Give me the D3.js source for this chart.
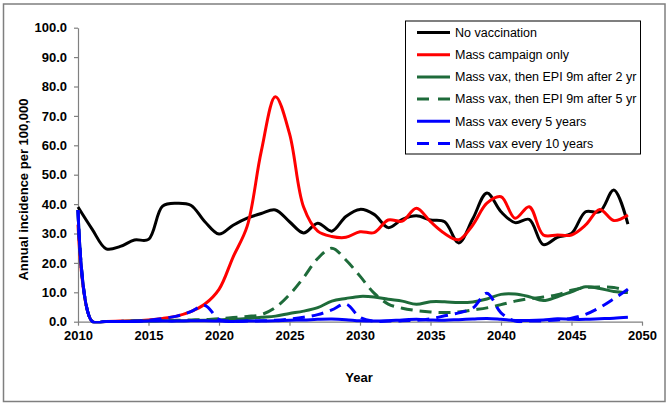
<!DOCTYPE html>
<html>
<head>
<meta charset="utf-8">
<script src="https://cdn.jsdelivr.net/npm/d3@7"></script>
<style>
  html, body { margin: 0; padding: 0; background: #fff; }
  svg { display: block; font-family: "Liberation Sans", Arial, sans-serif; }
</style>
</head>
<body>
<svg id="chart" width="670" height="406"></svg>
<script>
// ---------------- data ----------------
const years = [2010,2011,2012,2013,2014,2015,2016,2017,2018,2019,
               2020,2021,2022,2023,2024,2025,2026,2027,2028,2029,
               2030,2031,2032,2033,2034,2035,2036,2037,2038,2039,
               2040,2041,2042,2043,2044,2045,2046,2047,2048,2049];

const noVaccination = [39.0,31.5,24.8,25.6,27.8,28.0,39.3,40.3,39.6,34.0,
                       29.8,32.8,35.2,36.8,38.0,34.0,30.2,33.5,30.8,35.8,
                       38.2,36.5,32.0,34.8,36.0,34.6,34.0,26.8,35.0,43.8,
                       37.4,33.7,34.8,26.2,28.7,30.0,37.4,37.4,44.8,33.2];

const massCampaignOnly = [33.0,0.1,0.1,0.2,0.3,0.6,1.1,1.9,3.4,6.0,
                          11.0,22.0,32.5,58.0,76.5,64.0,39.0,30.8,29.0,28.7,
                          30.6,30.3,34.6,34.2,38.6,34.0,30.0,27.9,32.9,40.3,
                          42.5,35.2,39.1,29.5,29.5,29.5,32.9,38.2,34.4,36.3];

const epiAfter2 = [38.0,0.1,0.1,0.1,0.2,0.2,0.3,0.3,0.4,0.5,
                   0.6,0.8,1.1,1.5,1.9,2.8,3.6,4.8,7.0,7.9,
                   8.6,8.4,7.6,7.0,5.9,6.8,6.8,6.5,6.7,7.7,
                   9.3,9.4,8.5,7.2,8.5,10.2,11.9,11.3,10.3,9.9];

const epiAfter5 = [38.0,0.1,0.1,0.1,0.2,0.3,0.4,0.5,0.6,0.7,
                   1.0,1.4,1.8,2.4,4.8,9.2,15.0,21.5,25.0,21.0,
                   15.5,9.7,6.0,4.6,3.8,3.3,3.1,3.3,4.0,4.7,
                   5.8,7.0,7.8,8.4,9.2,10.7,11.6,11.8,11.6,10.5];

const every5Years = [38.0,0.1,0.1,0.1,0.1,0.2,0.2,0.2,0.3,0.3,
                     0.2,0.1,0.2,0.2,0.3,0.5,0.6,0.8,0.9,0.7,
                     0.3,0.2,0.3,0.6,0.8,0.6,0.5,0.7,0.9,1.1,
                     0.8,0.4,0.4,0.6,1.0,0.8,0.8,1.0,1.2,1.5];

const every10Years = [38.0,0.1,0.1,0.1,0.2,0.5,1.1,1.9,3.4,5.5,
                      0.8,0.2,0.2,0.3,0.5,0.9,1.5,2.4,4.0,6.0,
                      1.5,0.2,0.2,0.3,0.5,1.0,2.0,3.0,4.6,9.7,
                      3.0,0.2,0.2,0.3,0.6,1.2,2.5,4.8,7.8,11.0];

const seriesNames = ["No vaccination", "Mass campaign only",
                     "Mass vax, then EPI 9m after 2 yr", "Mass vax, then EPI 9m after 5 yr",
                     "Mass vax every 5 years", "Mass vax every 10 years"];
const seriesValues = [noVaccination, massCampaignOnly, epiAfter2, epiAfter5, every5Years, every10Years];
const seriesColors = ["#000000", "#ff0000", "#1e6b3a", "#1e6b3a", "#0000ff", "#0000ff"];
const seriesDashed = [false, false, false, true, false, true];

const yTicks = [0,10,20,30,40,50,60,70,80,90,100];
const xTicks = [2010,2015,2020,2025,2030,2035,2040,2045,2050];
const xTitle = "Year";
const yTitle = "Annual incidence per 100,000";

// ---------------- drawing ----------------
const svg = d3.select("#chart");
const plot = {left: 78, right: 642, top: 27.7, bottom: 321.7};

// outer frame
svg.append("rect")
  .attr("x", 3.5).attr("y", 4).attr("width", 661.5).attr("height", 397.5)
  .attr("fill", "#fff").attr("stroke", "#7f7f7f").attr("stroke-width", 1.5);

const x = d3.scaleLinear().domain([2010, 2050]).range([plot.left, plot.right]);
const y = d3.scaleLinear().domain([0, 100]).range([plot.bottom, plot.top]);

// axes
const yAxis = d3.axisLeft(y).tickValues(yTicks).tickFormat(d3.format(".1f"))
  .tickSizeInner(4).tickSizeOuter(0).tickPadding(7);
const xAxis = d3.axisBottom(x).tickValues(xTicks).tickFormat(d => String(d))
  .tickSizeInner(4).tickSizeOuter(0).tickPadding(5);

const gy = svg.append("g").attr("transform", `translate(${plot.left},0)`).call(yAxis);
const gx = svg.append("g").attr("transform", `translate(0,${plot.bottom})`).call(xAxis);

[gx, gy].forEach(g => {
  g.select(".domain").attr("stroke", "#808080").attr("stroke-width", 1.2);
  g.selectAll(".tick line").attr("stroke", "#808080").attr("stroke-width", 1.2);
  g.selectAll(".tick text")
    .attr("fill", "#000")
    .style("font-family", '"Liberation Sans", Arial, sans-serif')
    .style("font-size", "13px").style("font-weight", "bold");
});

// axis titles
svg.append("text")
  .attr("x", 359).attr("y", 381.5).attr("text-anchor", "middle")
  .style("font-size", "13px").style("font-weight", "bold")
  .text(xTitle);
svg.append("text")
  .attr("transform", "translate(28,189.5) rotate(-90)")
  .attr("text-anchor", "middle")
  .style("font-size", "13px").style("font-weight", "bold")
  .text(yTitle);

// clip
svg.append("clipPath").attr("id", "plotclip")
  .append("rect").attr("x", plot.left - 2).attr("y", 0)
  .attr("width", plot.right - plot.left + 12).attr("height", plot.bottom + 1.5);

const line = d3.line()
  .x((d, i) => x(years[i]))
  .y(d => y(d))
  .curve(d3.curveCatmullRom.alpha(0.5));

const lines = svg.append("g").attr("clip-path", "url(#plotclip)");
seriesValues.forEach((vals, k) => {
  lines.append("path")
    .datum(vals)
    .attr("d", line)
    .attr("fill", "none")
    .attr("stroke", seriesColors[k])
    .attr("stroke-width", 3)
    .attr("stroke-linejoin", "round")
    .attr("stroke-dasharray", seriesDashed[k] ? "12,7" : null);
});

// legend
const lg = svg.append("g");
lg.append("rect")
  .attr("x", 405.5).attr("y", 21).attr("width", 235).attr("height", 133)
  .attr("fill", "#fff").attr("stroke", "#000").attr("stroke-width", 1);
seriesNames.forEach((name, k) => {
  const yy = 32.5 + k * 22.2;
  lg.append("line")
    .attr("x1", 417).attr("x2", 450).attr("y1", yy).attr("y2", yy)
    .attr("stroke", seriesColors[k]).attr("stroke-width", 3)
    .attr("stroke-dasharray", seriesDashed[k] ? "12,9" : null);
  lg.append("text")
    .attr("x", 455).attr("y", yy).attr("dy", "0.35em")
    .style("font-size", "12.5px")
    .text(name);
});
</script>
</body>
</html>
